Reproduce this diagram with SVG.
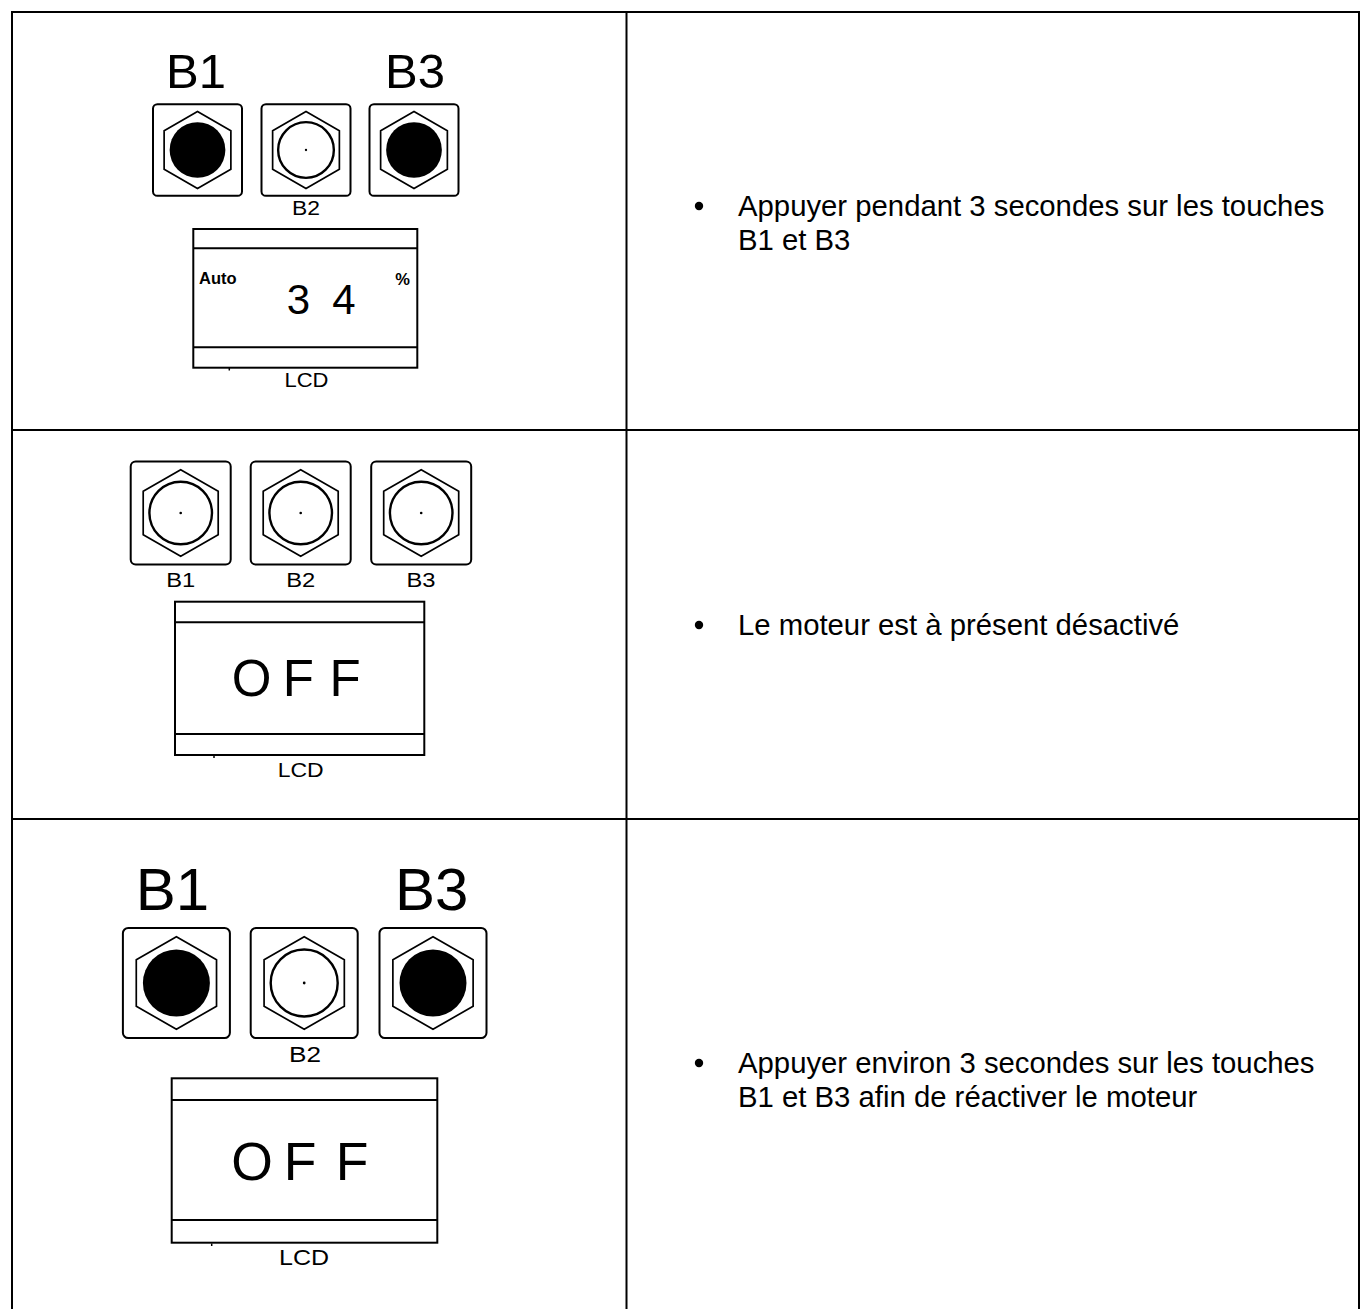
<svg xmlns="http://www.w3.org/2000/svg" xmlns:xlink="http://www.w3.org/1999/xlink" width="1361" height="1309" viewBox="0 0 1361 1309">
<style>
.ln{stroke:#000;stroke-width:2;fill:none}
.box{fill:#fff;stroke:#000;stroke-width:2;vector-effect:non-scaling-stroke}
.hex{fill:#fff;stroke:#000;stroke-width:1.7;vector-effect:non-scaling-stroke}
.ring{fill:#fff;stroke:#000;stroke-width:2.4;vector-effect:non-scaling-stroke}
.lcd{fill:#fff;stroke:#000;stroke-width:2}
.t{font-family:"Liberation Sans",Arial,sans-serif;fill:#000}
.big{font-size:49px}
.lbl{font-size:20px;text-anchor:middle}
.lbl3{font-size:22px;text-anchor:middle}
.body{font-size:29.3px}
.mid{text-anchor:middle}
</style>
<defs>
<g id="btnOn">
<rect class="box" x="-50" y="-51.5" width="100" height="103" rx="5"/>
<polygon class="hex" points="0,-43.3 37.5,-21.65 37.5,21.65 0,43.3 -37.5,21.65 -37.5,-21.65"/>
<circle cx="0" cy="0" r="31.3" fill="#000"/>
</g>
<g id="btnOff">
<rect class="box" x="-50" y="-51.5" width="100" height="103" rx="5"/>
<polygon class="hex" points="0,-43.3 37.5,-21.65 37.5,21.65 0,43.3 -37.5,21.65 -37.5,-21.65"/>
<circle class="ring" cx="0" cy="0" r="31.3"/>
<circle cx="0" cy="0" r="1.3" fill="#000"/>
</g>
</defs>

<g id="table">
<line class="ln" x1="11" y1="12" x2="1360" y2="12"/>
<line class="ln" x1="12" y1="11" x2="12" y2="1309"/>
<line class="ln" x1="1359" y1="11" x2="1359" y2="1309"/>
<line class="ln" x1="626.5" y1="12" x2="626.5" y2="1309"/>
<line class="ln" x1="12" y1="430" x2="1359" y2="430"/>
<line class="ln" x1="12" y1="819" x2="1359" y2="819"/>
</g>

<g id="connectors"></g>

<!-- Row 1 -->
<g id="row1-panel">
<text class="t big mid" x="196" y="88">B1</text>
<text class="t big mid" x="415" y="88">B3</text>
<g id="r1-b1"><use xlink:href="#btnOn" transform="translate(197.5 150) scale(0.89)"/></g>
<g id="r1-b2"><use xlink:href="#btnOff" transform="translate(306 150) scale(0.89)"/></g>
<g id="r1-b3"><use xlink:href="#btnOn" transform="translate(414 150) scale(0.89)"/></g>
<text class="t lbl" x="306" y="215" textLength="28" lengthAdjust="spacingAndGlyphs">B2</text>
<g id="r1-lcd">
<rect class="lcd" x="193.3" y="229" width="224" height="138.7"/>
<line class="ln" x1="193.3" y1="248.3" x2="417.3" y2="248.3"/>
<line class="ln" x1="193.3" y1="347.3" x2="417.3" y2="347.3"/>
<text class="t" x="199" y="284" font-size="16.5" font-weight="bold">Auto</text>
<text class="t" x="410" y="285" font-size="16.5" font-weight="bold" text-anchor="end">%</text>
<text class="t mid" x="298.5" y="314" font-size="42">3</text>
<text class="t mid" x="344" y="314" font-size="42">4</text>
<line x1="229.3" y1="368" x2="229.3" y2="370.5" stroke="#000" stroke-width="1.5"/>
</g>
<text class="t lbl" x="306.5" y="387" textLength="44" lengthAdjust="spacingAndGlyphs">LCD</text>
</g>
<g id="row1-text">
<circle cx="699" cy="206" r="4.2" fill="#000"/>
<text class="t body" x="738" y="216">Appuyer pendant 3 secondes sur les touches</text>
<text class="t body" x="738" y="249.5">B1 et B3</text>
</g>

<!-- Row 2 -->
<g id="row2-panel">
<g id="r2-b1"><use xlink:href="#btnOff" transform="translate(180.7 513)"/></g>
<g id="r2-b2"><use xlink:href="#btnOff" transform="translate(300.7 513)"/></g>
<g id="r2-b3"><use xlink:href="#btnOff" transform="translate(421.2 513)"/></g>
<text class="t lbl" x="180.7" y="587" textLength="29" lengthAdjust="spacingAndGlyphs">B1</text>
<text class="t lbl" x="300.7" y="587" textLength="29" lengthAdjust="spacingAndGlyphs">B2</text>
<text class="t lbl" x="421" y="587" textLength="29" lengthAdjust="spacingAndGlyphs">B3</text>
<g id="r2-lcd">
<rect class="lcd" x="175" y="601.7" width="249.3" height="153.3"/>
<line class="ln" x1="175" y1="622.3" x2="424.3" y2="622.3"/>
<line class="ln" x1="175" y1="734" x2="424.3" y2="734"/>
<text class="t mid" x="251.7" y="696" font-size="51">O</text>
<text class="t mid" x="298.4" y="696" font-size="51">F</text>
<text class="t mid" x="345" y="696" font-size="51">F</text>
<line x1="214" y1="755.5" x2="214" y2="758" stroke="#000" stroke-width="1.5"/>
</g>
<text class="t lbl" x="300.7" y="777" textLength="46" lengthAdjust="spacingAndGlyphs">LCD</text>
</g>
<g id="row2-text">
<circle cx="699" cy="625" r="4.2" fill="#000"/>
<text class="t body" x="738" y="635">Le moteur est à présent désactivé</text>
</g>

<!-- Row 3 -->
<g id="row3-panel">
<text class="t mid" x="172.5" y="910" font-size="60">B1</text>
<text class="t mid" x="431.7" y="910" font-size="60">B3</text>
<g id="r3-b1"><use xlink:href="#btnOn" transform="translate(176.4 983) scale(1.07)"/></g>
<g id="r3-b2"><use xlink:href="#btnOff" transform="translate(304.2 983) scale(1.07)"/></g>
<g id="r3-b3"><use xlink:href="#btnOn" transform="translate(433 983) scale(1.07)"/></g>
<text class="t lbl3" x="305" y="1062" textLength="32" lengthAdjust="spacingAndGlyphs">B2</text>
<g id="r3-lcd">
<rect class="lcd" x="171.7" y="1078.3" width="265.6" height="164.4"/>
<line class="ln" x1="171.7" y1="1100" x2="437.3" y2="1100"/>
<line class="ln" x1="171.7" y1="1220" x2="437.3" y2="1220"/>
<text class="t mid" x="252" y="1180" font-size="53.5">O</text>
<text class="t mid" x="300" y="1180" font-size="53.5">F</text>
<text class="t mid" x="352" y="1180" font-size="53.5">F</text>
<line x1="211.7" y1="1243.5" x2="211.7" y2="1246" stroke="#000" stroke-width="1.5"/>
</g>
<text class="t lbl3" x="304" y="1265" textLength="50" lengthAdjust="spacingAndGlyphs">LCD</text>
</g>
<g id="row3-text">
<circle cx="699" cy="1063" r="4.2" fill="#000"/>
<text class="t body" x="738" y="1073">Appuyer environ 3 secondes sur les touches</text>
<text class="t body" x="738" y="1106.5">B1 et B3 afin de réactiver le moteur</text>
</g>
</svg>
